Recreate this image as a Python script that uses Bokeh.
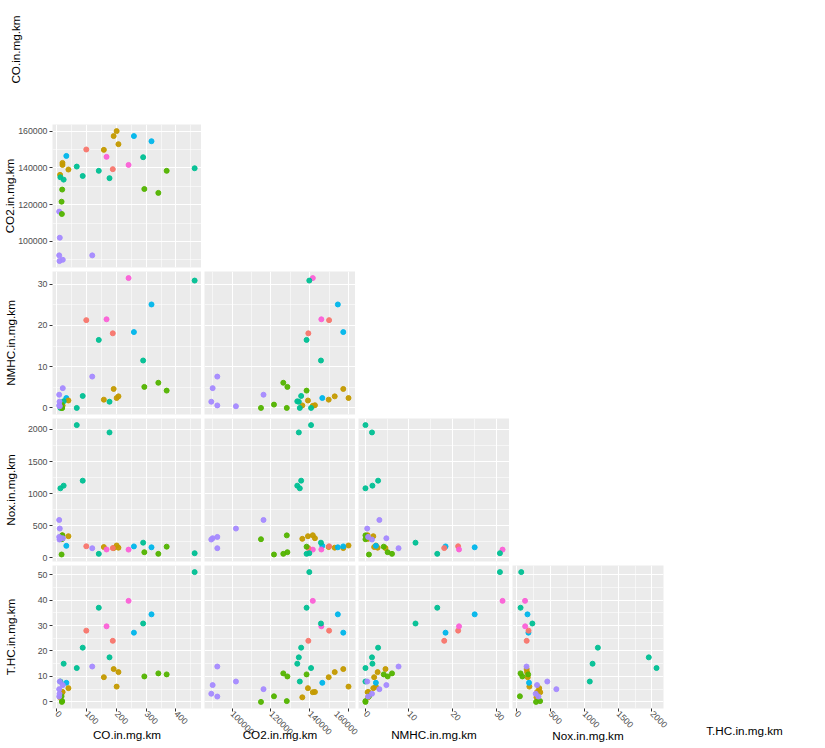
import math
from bokeh.plotting import figure
from bokeh.layouts import row, column
from bokeh.models import Range1d, FixedTicker, LinearAxis, Grid, ColumnDataSource, BasicTickFormatter
from bokeh.embed import file_html
from bokeh.resources import INLINE

# ---------------- data ----------------
variables = ["CO.in.mg.km", "CO2.in.mg.km", "NMHC.in.mg.km", "Nox.in.mg.km", "T.HC.in.mg.km"]

co = [201, 191, 207, 158, 259, 318, 99, 32, 167, 290, 19, 19, 241, 67, 39, 188, 463, 369,
      141, 87, 11, 12, 23, 177, 18, 294, 341, 16, 8, 17, 10, 8, 119, 20, 9]
co2 = [160000, 157300, 152900, 149800, 157300, 154500, 150000, 146500, 146000, 145800,
       142700, 141600, 141600, 140700, 139100, 139300, 139800, 138400, 138400, 135600,
       136200, 134900, 133600, 134400, 128200, 128500, 126400, 121600, 116200, 114900,
       102000, 92400, 92400, 90000, 89300]
nmhc = [2.4, 4.6, 2.8, 2.0, 18.4, 25.1, 21.3, 2.4, 21.5, 11.5, 0.65, 0.5, 31.5, 0.0, 1.8,
        18.1, 30.9, 4.2, 16.5, 2.9, 0.6, 0.0, 1.6, 1.5, 0.0, 5.1, 6.1, 0.8, 3.2, 0.0, 0.4,
        0.6, 7.6, 4.8, 1.5]
nox = [192, 152, 158, 168, 178, 164, 180, 187, 130, 236, 306, 352, 128, 2067, 337, 152, 72,
       174, 62, 1202, 296, 1083, 1124, 1953, 350, 88, 62, 52, 590, 290, 456, 326, 150, 305, 285]
thc = [6.0, 12.9, 11.7, 9.7, 27.2, 34.4, 28.0, 7.5, 29.7, 30.8, 3.9, 3.8, 39.7, 13.3, 5.4,
       24.0, 51.0, 10.8, 37.0, 21.3, 1.8, 8.0, 15.0, 17.5, 0.3, 10.0, 11.2, 2.2, 5.0, 0.0,
       8.0, 2.1, 13.9, 6.6, 3.2]
group = ["B", "B", "B", "B", "E", "E", "A", "E", "G", "D", "B", "B", "G", "D", "B", "A", "D",
         "C", "D", "D", "B", "D", "D", "D", "C", "C", "C", "C", "F", "C", "F", "F", "F", "F", "F"]

group_levels = ["A", "B", "C", "D", "E", "F", "G"]
group_colors = ["#F8766D", "#C49A00", "#53B400", "#00C094", "#00B6EB", "#A58AFF", "#FB61D7"]

ranges = {
    "CO.in.mg.km": (-14.5, 486),
    "CO2.in.mg.km": (85800, 163600),
    "NMHC.in.mg.km": (-1.6, 33.1),
    "Nox.in.mg.km": (-57, 2170),
    "T.HC.in.mg.km": (-2.6, 53.6),
}
major_ticks = {
    "CO.in.mg.km": [0, 100, 200, 300, 400],
    "CO2.in.mg.km": [100000, 120000, 140000, 160000],
    "NMHC.in.mg.km": [0, 10, 20, 30],
    "Nox.in.mg.km": [0, 500, 1000, 1500, 2000],
    "T.HC.in.mg.km": [0, 10, 20, 30, 40, 50],
}
minor_ticks = {
    "CO.in.mg.km": [50, 150, 250, 350, 450],
    "CO2.in.mg.km": [90000, 110000, 130000, 150000],
    "NMHC.in.mg.km": [5, 15, 25],
    "Nox.in.mg.km": [250, 750, 1250, 1750],
    "T.HC.in.mg.km": [5, 15, 25, 35, 45],
}

color_map = dict(zip(group_levels, group_colors))
source = ColumnDataSource(dict(
    **{"CO.in.mg.km": co, "CO2.in.mg.km": co2, "NMHC.in.mg.km": nmhc,
       "Nox.in.mg.km": nox, "T.HC.in.mg.km": thc},
    group=group, color=[color_map[g] for g in group]))

# ---------------- layout geometry (pixels) ----------------
LEFT = 50      # left border of first column
W = 151        # panel width
GAP_X = 3
H = 143        # panel height
GAP_Y = 4
TOP0 = 124     # height of the first (title-only) row
BOTTOM = 38    # bottom border of last row
FONT = "Liberation Sans"
TITLE_SIZE = "11.7px"
TICK_SIZE = "8.8px"

# title standoffs so that all titles line up in one column / one row (as ggpairs does)
ytitle_standoff = {"CO.in.mg.km": 29, "CO2.in.mg.km": -1, "NMHC.in.mg.km": 18,
                   "Nox.in.mg.km": 8, "T.HC.in.mg.km": 18}
xtitle_standoff = {"CO.in.mg.km": -2, "CO2.in.mg.km": -12, "NMHC.in.mg.km": 1,
                   "Nox.in.mg.km": -5, "T.HC.in.mg.km": 15}


def ticker(v):
    return FixedTicker(ticks=major_ticks[v], minor_ticks=minor_ticks[v])


def make_axis(v, title, standoff, empty=False):
    ax = LinearAxis(ticker=FixedTicker(ticks=[]) if empty else ticker(v))
    ax.axis_line_color = None
    ax.major_tick_line_color = "#333333"
    ax.major_tick_out = 3
    ax.major_tick_in = 0
    ax.minor_tick_line_color = None
    ax.major_label_text_font = FONT
    ax.major_label_text_font_size = TICK_SIZE
    ax.major_label_text_color = "#4D4D4D"
    ax.major_label_standoff = 1
    ax.formatter = BasicTickFormatter(use_scientific=False)
    ax.axis_label = title
    ax.axis_label_standoff = standoff
    ax.axis_label_text_font = FONT
    ax.axis_label_text_font_size = TITLE_SIZE
    ax.axis_label_text_font_style = "normal"
    ax.axis_label_text_color = "black"
    return ax


def base_fig(ml, mr, mt, mb, fw, fh, xv=None, yv=None, empty=False):
    xr = Range1d(*ranges[xv]) if xv else Range1d(0, 1)
    yr = Range1d(*ranges[yv]) if yv else Range1d(0, 1)
    p = figure(width=ml + fw + mr, height=mt + fh + mb, x_range=xr, y_range=yr,
               x_axis_location=None, y_axis_location=None,
               toolbar_location=None, output_backend="svg",
               min_border_left=ml, min_border_right=mr, min_border_top=mt, min_border_bottom=mb)
    p.center = [c for c in p.center if not isinstance(c, Grid)]
    p.border_fill_color = "white"
    p.outline_line_color = None
    if empty:
        p.background_fill_color = "white"
    else:
        p.background_fill_color = "#EBEBEB"
        for dim, v in ((0, xv), (1, yv)):
            g = Grid(dimension=dim, ticker=ticker(v),
                     grid_line_color="white", grid_line_width=1.1,
                     minor_grid_line_color="white", minor_grid_line_width=0.55)
            p.add_layout(g, "center")
    return p


rows = []
# row 0: only the y title of the first variable (diagonal cell left blank)
f00 = base_fig(LEFT, 0, 0, 26, W, TOP0 - 26, empty=True)
f00.add_layout(make_axis(variables[0], variables[0], ytitle_standoff[variables[0]], empty=True), "left")
rows.append(row(f00))

n = len(variables)
for r in range(1, n):
    figs = []
    last = (r == n - 1)
    mb = BOTTOM if last else GAP_Y
    for c in range(r):
        if last:
            # bottom row: let rotated tick labels run a little past the panel edge
            ml = LEFT if c == 0 else (0 if c == 2 else GAP_X)
            mr = 3 if c == 1 else (14 if c == r - 1 else 0)
        else:
            ml = LEFT if c == 0 else GAP_X
            mr = 0
        xv, yv = variables[c], variables[r]
        p = base_fig(ml, mr, 0, mb, W, H, xv, yv)
        p.scatter(x=xv, y=yv, source=source, size=5, fill_color="color",
                  line_color="color", fill_alpha=0.95, line_alpha=0.95)
        if c == 0:
            p.add_layout(make_axis(yv, yv, ytitle_standoff[yv]), "left")
        if last:
            ax = make_axis(xv, xv, xtitle_standoff[xv])
            ax.major_label_orientation = -math.pi / 4
            ax.major_label_standoff = 0
            p.add_layout(ax, "below")
        figs.append(p)
    if last:
        # last column: only the x title of the last variable
        pl = base_fig(0, 0, 0, mb, 134, H, empty=True)
        v = variables[-1]
        pl.add_layout(make_axis(v, v, xtitle_standoff[v], empty=True), "below")
        figs.append(pl)
    rows.append(row(*figs))

layout = column(*rows)
open("out.html", "w").write(file_html(layout, INLINE))
